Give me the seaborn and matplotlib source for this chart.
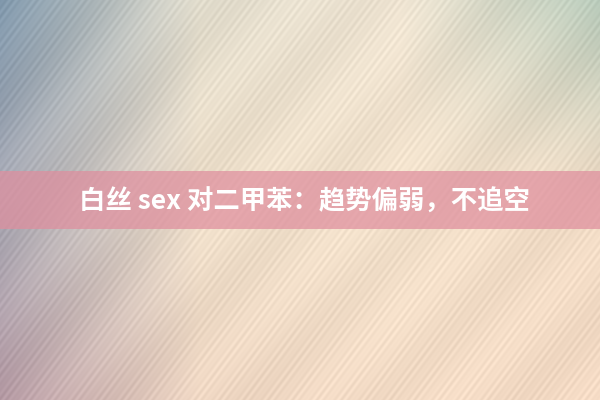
import seaborn as sns
import numpy as np
import matplotlib.pyplot as plt
from matplotlib.patches import Rectangle

# colour anchors of the background (rows top->bottom, cols left->right)
grid_colors = [
    ['#7f97ab', '#e2ddcd', '#efe4d2', '#b9cbbb'],
    ['#a9aab5', '#eedfca', '#f3e2cc', '#f1dcc6'],
    ['#b79ca6', '#eed6c2', '#f4dcc6', '#f3d9c3'],
]
title = '白丝 sex 对二甲苯：趋势偏弱，不追空'
band_color = '#df8e9e'

sns.set_theme(style='white')
plt.rcParams['font.family'] = ['Noto Sans CJK SC', 'DejaVu Sans']

# smooth gradient from the anchor colours
rgb = np.array([[sns.utils.to_rgb(c) for c in row] for row in grid_colors])
h, w = 400, 600
ys = np.linspace(0, rgb.shape[0] - 1, h)
xs = np.linspace(0, rgb.shape[1] - 1, w)
y0 = np.clip(np.floor(ys).astype(int), 0, rgb.shape[0] - 2)
x0 = np.clip(np.floor(xs).astype(int), 0, rgb.shape[1] - 2)
fy = (ys - y0)[:, None, None]
fx = (xs - x0)[None, :, None]
c00 = rgb[y0][:, x0]
c01 = rgb[y0][:, x0 + 1]
c10 = rgb[y0 + 1][:, x0]
c11 = rgb[y0 + 1][:, x0 + 1]
img = (c00 * (1 - fx) + c01 * fx) * (1 - fy) + (c10 * (1 - fx) + c11 * fx) * fy

# faint diagonal brush strokes
yy, xx = np.mgrid[0:h, 0:w]
u = xx + 0.75 * yy
stroke = np.sin(u * 0.9) * np.sin(u * 0.13) + 0.5 * np.sin(u * 0.047 + yy * 0.01)
img = np.clip(img + 0.03 * stroke[..., None], 0, 1)

fig = plt.figure(figsize=(6, 4), dpi=100)
ax = fig.add_axes([0, 0, 1, 1])
ax.imshow(img, extent=[0, w, h, 0], aspect='auto')
ax.add_patch(Rectangle((0, 171), w, 58, color=band_color, alpha=0.72, lw=0))
ax.text(304, 201, title, color='white', fontsize=19, fontweight='bold',
        ha='center', va='center')
ax.set_xlim(0, w)
ax.set_ylim(h, 0)
ax.axis('off')
fig.savefig('out.png', dpi=100)
